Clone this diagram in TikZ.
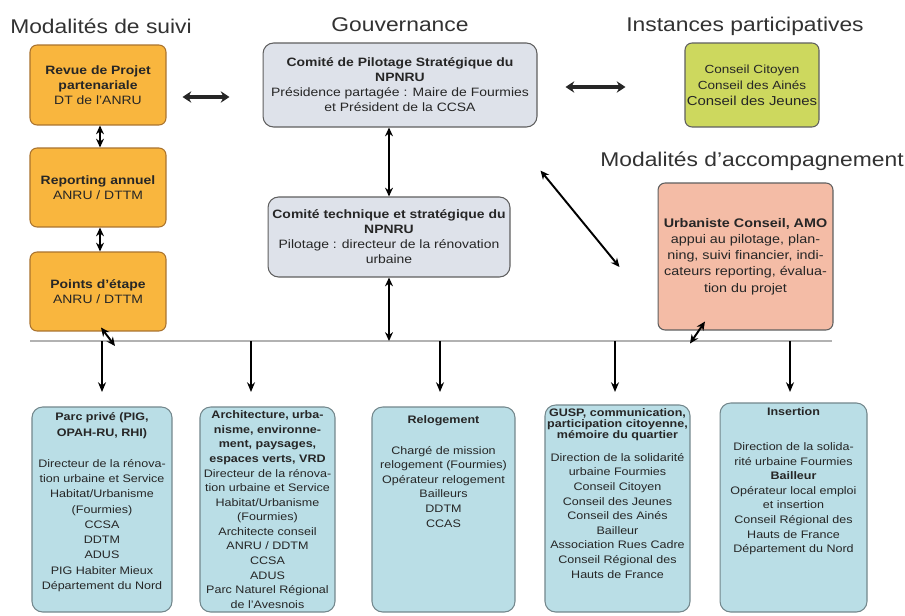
\documentclass[tikz,border=0pt]{standalone}
\usepackage{fontspec}
\setmainfont{Liberation Sans}[FakeStretch=1.15]
\usetikzlibrary{arrows.meta,calc}
\definecolor{orangef}{RGB}{249,182,62}
\definecolor{oranged}{RGB}{170,115,45}
\definecolor{grayf}{RGB}{222,226,234}
\definecolor{grayd}{RGB}{95,95,95}
\definecolor{greenf}{RGB}{205,216,94}
\definecolor{salmonf}{RGB}{244,188,166}
\definecolor{bluef}{RGB}{186,222,230}
\definecolor{blued}{RGB}{115,135,140}
\definecolor{busc}{RGB}{178,178,178}
\definecolor{txt}{RGB}{38,38,38}
\definecolor{hdc}{RGB}{50,50,50}
\begin{document}
\begin{tikzpicture}[x=0.02cm,y=-0.02cm,
  hd/.style={font=\fontsize{11.3}{13}\selectfont, text=hdc, inner sep=0pt},
  boxbase/.style={rounded corners=4pt, line width=0.6pt, inner sep=1pt, align=center, text=txt},
  obox/.style={boxbase, draw=oranged, fill=orangef, minimum width=2.72cm, minimum height=1.58cm, font=\fontsize{6.9}{8.6}\selectfont},
  gbox/.style={boxbase, draw=grayd, fill=grayf, rounded corners=6pt, font=\fontsize{6.9}{8.5}\selectfont},
  ibox/.style={boxbase, draw=grayd, fill=greenf, font=\fontsize{6.7}{9}\selectfont},
  sbox/.style={boxbase, draw=grayd, fill=salmonf, font=\fontsize{7.1}{9.2}\selectfont},
  bbox/.style={boxbase, draw=blued, fill=bluef, rounded corners=6pt},
  btxt/.style={align=center, inner sep=0pt, text=txt, font=\fontsize{6.2}{8.3}\selectfont},
  bus/.style={draw=busc, line width=1.4pt},
  arr/.style={-{Stealth[length=5.5pt,width=4.5pt]}, line width=1.1pt, black},
  dbl/.style={{Stealth[length=5pt,width=4.5pt]}-{Stealth[length=5pt,width=4.5pt]}, line width=1.1pt, black},
  dblh/.style={{Stealth[length=5pt,width=6.5pt]}-{Stealth[length=5pt,width=6.5pt]}, line width=1.8pt, black!85}
]
\useasboundingbox[fill=white] (0,0) rectangle (905,615);

% headings
\node[hd] (h1) at (101,26) {Modalités de suivi};
\node[hd] (h2) at (400,25) {Gouvernance};
\node[hd] (h3) at (745,26) {Instances participatives};
\node[hd] (h4) at (752,161) {Modalités d'accompagnement};

% left column
\node[obox, minimum height=1.6cm] (o1) at (98,85) {\textbf{Revue de Projet}\\\textbf{partenariale}\\DT de l'ANRU};
\node[obox] (o2) at (98,187.5) {\textbf{Reporting annuel}\\ANRU / DTTM};
\node[obox] (o3) at (98,291.5) {\textbf{Points d'étape}\\ANRU / DTTM};

% governance
\node[gbox, minimum width=5.48cm, minimum height=1.68cm] (pil) at (400,85)
  {\textbf{Comité de Pilotage Stratégique du}\\\textbf{NPNRU}\\Présidence partagée : Maire de Fourmies\\et Président de la CCSA};
\node[gbox, minimum width=4.84cm, minimum height=1.6cm] (tech) at (389,237)
  {\textbf{Comité technique et stratégique du}\\\textbf{NPNRU}\\Pilotage : directeur de la rénovation\\urbaine};

% participative
\node[ibox, minimum width=2.6cm, minimum height=1.68cm] (inst) at (752,85)
  {Conseil Citoyen\\Conseil des Ainés\\{\fontsize{7.4}{9}\selectfont Conseil des Jeunes}};

% accompagnement
\node[sbox, minimum width=3.5cm, minimum height=2.94cm] (amo) at (745.5,256.5)
  {\textbf{Urbaniste Conseil, AMO}\\appui au pilotage, plan-\\ning, suivi financier, indi-\\cateurs reporting, évalua-\\tion du projet};

% bus line
\coordinate (L0) at (30,341);
\coordinate (L1) at (832,341);
\coordinate (T) at (0,392);
\draw[bus] (L0) -- (L1);

% bottom boxes
\node[bbox, minimum width=2.8cm, minimum height=4.1cm] (b1) at (102,509.5) {};
\node[bbox, minimum width=2.7cm, minimum height=4.1cm] (b2) at (267.5,509.5) {};
\node[bbox, minimum width=2.86cm, minimum height=4.1cm] (b3) at (443.5,509.5) {};
\node[bbox, minimum width=2.9cm, minimum height=4.14cm] (b4) at (617.5,508.5) {};
\node[bbox, minimum width=2.94cm, minimum height=4.18cm] (b5) at (793.5,507.5) {};

\node[btxt, anchor=north, font=\fontsize{6.2}{8.7}\selectfont] (t1) at ($(b1.north)+(0,6)$)
  {\textbf{Parc privé (PIG,}\\\textbf{OPAH-RU, RHI)}\\[9pt]
   Directeur de la rénova-\\tion urbaine et Service\\Habitat/Urbanisme\\(Fourmies)\\CCSA\\DDTM\\ADUS\\PIG Habiter Mieux\\Département du Nord};
\node[btxt, anchor=north] (t2) at ($(b2.north)+(0,4)$)
  {\textbf{Architecture, urba-}\\\textbf{nisme, environne-}\\\textbf{ment, paysages,}\\\textbf{espaces verts, VRD}\\
   Directeur de la rénova-\\tion urbaine et Service\\Habitat/Urbanisme\\(Fourmies)\\Architecte conseil\\ANRU / DDTM\\CCSA\\ADUS\\Parc Naturel Régional\\de l'Avesnois};
\node[btxt, anchor=north] (t3) at ($(b3.north)+(0,9)$)
  {\textbf{Relogement}\\[9pt]
   Chargé de mission\\relogement (Fourmies)\\Opérateur relogement\\Bailleurs\\DDTM\\CCAS};
\node[btxt, anchor=north] (t4) at ($(b4.north)+(0,4)$)
  {\textbf{GUSP, communication,}\\[-2pt]\textbf{participation citoyenne,}\\[-2pt]\textbf{mémoire du quartier}\\[4.5pt]
   Direction de la solidarité\\urbaine Fourmies\\Conseil Citoyen\\Conseil des Jeunes\\Conseil des Ainés\\Bailleur\\Association Rues Cadre\\Conseil Régional des\\Hauts de France};
\node[btxt, anchor=north] (t5) at ($(b5.north)+(0,5)$)
  {\textbf{Insertion}\\[11.5pt]
   Direction de la solida-\\rité urbaine Fourmies\\\textbf{Bailleur}\\Opérateur local emploi\\et insertion\\Conseil Régional des\\Hauts de France\\Département du Nord};

% connectors top
\draw[dblh] ($(o1.east)+(16,12)$) -- ($(pil.west)+(-33,12)$);
\draw[dblh] ($(pil.east)+(28,2)$) -- ($(inst.west)+(-59,2)$);
\draw[dbl] ($(o1.south)+(2,0)$) -- ($(o2.north)+(2,0)$);
\draw[dbl] ($(o2.south)+(2,0)$) -- ($(o3.north)+(2,0)$);
\draw[dbl] ($(o3.south)+(3,-4)$) -- ($(L0)+(85,5)$);
\draw[dbl] (tech.north |- pil.south) -- (tech.north);
\draw[dbl] (tech.south) -- (tech.south |- L0);
\draw[dbl] ($(pil.south east)+(3,43)$) -- ($(amo.west)+(-38,10.5)$);
\draw[dbl] ($(amo.south)+(-40.5,-9)$) -- ($(amo.south)+(-55.5,13)$);

% bus to bottom boxes
\draw[arr] (b1.north |- L0) -- (b1.north |- T);
\draw[arr] ([xshift=-0.33cm]b2.north |- L0) -- ([xshift=-0.33cm]b2.north |- T);
\draw[arr] ([xshift=-0.07cm]b3.north |- L0) -- ([xshift=-0.07cm]b3.north |- T);
\draw[arr] ([xshift=-0.05cm]b4.north |- L0) -- ([xshift=-0.05cm]b4.north |- T);
\draw[arr] ([xshift=-0.07cm]b5.north |- L0) -- ([xshift=-0.07cm]b5.north |- T);
\end{tikzpicture}
\end{document}
